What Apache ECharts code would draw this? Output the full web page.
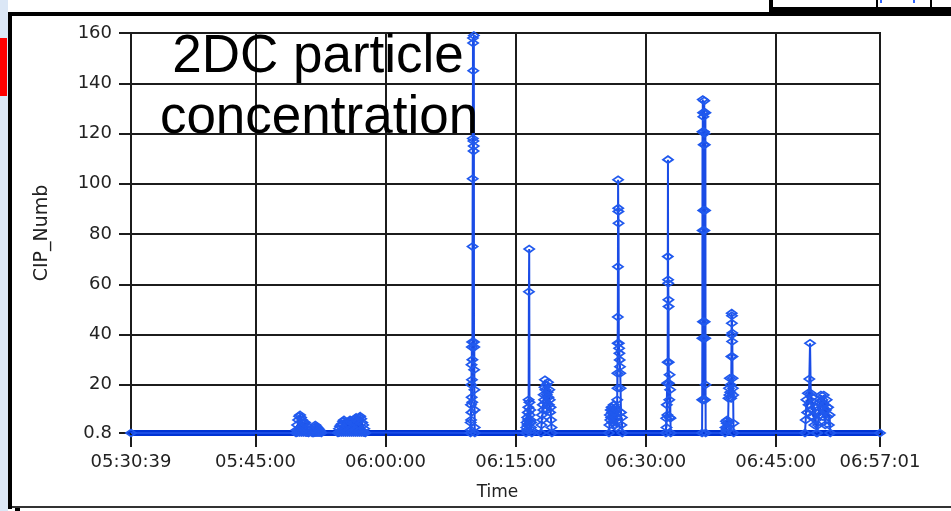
<!DOCTYPE html>
<html>
<head>
<meta charset="utf-8">
<script src="https://cdn.jsdelivr.net/npm/echarts@6/dist/echarts.min.js"></script>
<style>
  html, body { margin: 0; padding: 0; background: #ffffff; }
  #chart { width: 951px; height: 511px; }
</style>
</head>
<body>
<div id="chart"></div>
<script>
// Time axis range and labelled ticks (clock time, HH:MM:SS)
const timeStart = '05:30:39';
const timeEnd = '06:57:01';
const timeTicks = ['05:30:39', '05:45:00', '06:00:00', '06:15:00', '06:30:00', '06:45:00', '06:57:01'];

// CIP_Numb axis ticks
const numbTicks = [0.8, 20, 40, 60, 80, 100, 120, 140, 160];
const baseline = 0.8;

// Bursts of 2DC counts: first sample time, offsets from it (s), CIP_Numb values
const burst1Start = '05:49:41';
const burst1Sec = [0, 3, 7, 10, 14, 17, 21, 24, 28, 31, 35, 38, 42, 45, 49, 52, 56, 59, 63, 66, 70, 73, 77, 80, 84, 87,
  112, 119, 122, 126, 129, 133, 136, 140, 143, 147, 150, 154, 157, 161, 164, 168, 175];
const burst1Numb = [0.8, 2, 4, 1, 6, 2, 7.5, 1, 8, 3, 7, 1, 6, 2, 5, 1, 4.5, 2, 5, 1, 4, 1, 2.5, 1, 2, 0.8,
  0.8, 2, 0.8, 3, 1, 4, 1, 3.5, 1, 3, 1, 2.5, 1, 2, 1, 1.5, 0.8];

const burst2Start = '05:54:31';
const burst2Sec = [0, 3, 7, 10, 14, 17, 21, 24, 28, 31, 35, 38, 42, 45, 49, 52, 56, 59, 63, 66, 70, 73, 77, 80, 84, 87,
  91, 94, 98, 101, 105, 108, 112, 115, 119, 122, 126, 129, 133, 136, 140, 143, 147, 150, 154, 157, 161, 164, 168, 171,
  175, 178, 182, 185, 189];
const burst2Numb = [0.8, 1, 2.5, 1, 3.5, 1.5, 4, 1, 4.5, 2, 5.5, 1, 6, 2, 5, 1, 4, 1.5, 3.5, 1, 4.5, 2, 5.5, 1, 6, 2,
  5.5, 1, 5, 1.5, 4.5, 1, 5, 2, 6.5, 1, 7, 2, 6, 1, 5.5, 1.5, 7, 1, 7.5, 2, 6.5, 1, 5, 1.5,
  4, 1, 2.5, 1, 0.8];

const burst3Start = '06:09:48';
const burst3Sec = [0, 1, 2, 3, 4, 5, 6, 7, 8, 9, 10, 11, 12, 13, 14, 15, 16, 17, 18, 19, 20, 21, 22, 23, 24, 25, 26, 27, 28, 29, 30];
const burst3Numb = [0.8, 5, 2, 12, 6, 20, 9, 28, 15, 35, 22, 37, 13, 30, 75, 102, 118, 158, 156, 145, 117, 113, 115, 159, 37, 26, 35, 18, 10, 3, 0.8];

const burst4Start = '06:16:12';
const burst4Sec = [0, 2, 4, 6, 8, 10, 12, 14, 16, 18, 20, 22, 24, 26, 28, 30, 32, 34, 36, 38, 40];
const burst4Numb = [0.8, 3, 5, 2, 7, 4, 9, 6, 11, 14, 57, 74, 13, 8, 5, 10, 6, 3, 5, 2, 0.8];

const burst5Start = '06:17:56';
const burst5Sec = [0, 3, 6, 9, 12, 15, 18, 21, 24, 27, 30, 33, 36, 39, 42, 45, 48, 51, 54, 57, 60, 63, 66, 69, 72, 75];
const burst5Numb = [0.8, 4, 8, 6, 12, 10, 16, 14, 19, 22, 18, 13, 20, 16, 10, 17, 21, 15, 12, 18, 14, 9, 11, 6, 3, 0.8];

const burst6Start = '06:25:46';
const burst6Sec = [0, 3, 6, 9, 12, 15, 18, 21, 24, 27, 30, 33, 36, 39, 42, 45, 48, 51, 54,
  57, 58, 59, 60, 61, 62, 63, 64, 65, 66, 68, 70, 72, 74, 76, 78, 80, 83, 86, 89, 92];
const burst6Numb = [0.8, 4, 8, 6, 10, 7, 11, 9, 5, 10, 8, 12, 6, 9, 4, 11, 7, 3, 10,
  14, 24.6, 18.6, 36.5, 47, 67, 101.6, 90.3, 89, 84.3, 36.5, 34.5, 32.5, 29.9, 27.2, 24.6, 18.6, 9, 4, 7, 0.8];

const burst7Start = '06:32:20';
const burst7Sec = [0, 2, 4, 6, 8, 10, 12, 13, 14, 15, 16, 17, 18, 19, 21, 23, 25, 27, 29, 31, 33];
const burst7Numb = [0.8, 6.7, 3, 12, 20.6, 8, 29, 71, 109.6, 61.8, 60.4, 53.8, 51.1, 29, 20.6, 14, 24, 7, 18, 6.7, 0.8];

const burst8Start = '06:36:30';
const burst8Sec = [0, 1, 2, 3, 4, 5, 6, 7, 8, 9, 10, 11, 12, 13, 14, 15, 16, 17, 18, 19, 20, 21, 22, 23, 24, 25];
const burst8Numb = [0.8, 14, 38.5, 120.7, 81.4, 133.5, 45.1, 128.3, 89.4, 126.7, 120.7, 115.5, 14, 120.7, 38.5, 133, 81.4, 120, 45.1, 115.5, 14, 89.4, 38.5, 128.3, 20, 0.8];

const burst9Start = '06:39:09';
const burst9Sec = [0, 3, 6, 9, 12, 15, 18, 21, 24, 27, 30, 33, 36, 39, 42, 44, 45, 46, 47, 48, 49, 50, 51, 52, 54, 56, 58, 60];
const burst9Numb = [0.8, 3, 5.5, 2, 4.7, 6, 3, 5, 14.6, 18.6, 15.9, 22.6, 17, 20, 14.6, 31.2, 39.8, 48.5, 44.5, 47.5, 37.2, 40.6, 31.2, 22.6, 18.6, 15.9, 4.7, 0.8];

const burst10Start = '06:48:22';
const burst10Sec = [0, 5, 10, 15, 20, 25, 30, 35, 40, 45, 50, 55, 60, 65, 70, 75, 80, 85, 90, 95, 100, 105,
  110, 115, 120, 125, 130, 135, 140, 145, 150, 155, 160, 165, 170, 175];
const burst10Numb = [0.8, 6, 14, 9, 16.6, 12, 22.3, 36.5, 16.6, 10, 15, 7.3, 13, 4, 11, 6, 0.8, 0.8, 4, 9, 13, 8,
  15.9, 11, 14, 7.3, 15.9, 12, 4, 10, 14, 7.3, 11, 4, 8, 0.8];

function toSec(s) {
  const p = s.split(':').map(Number);
  return p[0] * 3600 + p[1] * 60 + p[2];
}
function toClock(sec) {
  const s = Math.round(sec);
  const pad = (n) => String(n).padStart(2, '0');
  return pad(Math.floor(s / 3600)) + ':' + pad(Math.floor((s % 3600) / 60)) + ':' + pad(s % 60);
}

const bursts = [
  [burst1Start, burst1Sec, burst1Numb],
  [burst2Start, burst2Sec, burst2Numb],
  [burst3Start, burst3Sec, burst3Numb],
  [burst4Start, burst4Sec, burst4Numb],
  [burst5Start, burst5Sec, burst5Numb],
  [burst6Start, burst6Sec, burst6Numb],
  [burst7Start, burst7Sec, burst7Numb],
  [burst8Start, burst8Sec, burst8Numb],
  [burst9Start, burst9Sec, burst9Numb],
  [burst10Start, burst10Sec, burst10Numb]
];

const points = [[toSec(timeStart), baseline]];
bursts.forEach(([start, secs, vals]) => {
  const t0 = toSec(start);
  secs.forEach((s, i) => points.push([t0 + s, vals[i]]));
});
points.push([toSec(timeEnd), baseline]);

const tickSecs = timeTicks.map(toSec);
const ink = '#1c1c1c';
const labelFont = 'DejaVu Sans';
const captionFont = '53px "Liberation Sans", Arial, sans-serif';

const chart = echarts.init(document.getElementById('chart'), null, { renderer: 'canvas' });
chart.setOption({
  animation: false,
  backgroundColor: '#ffffff',
  grid: {
    left: 131, right: 71, top: 33, bottom: 78,
    show: true, borderColor: ink, borderWidth: 2, backgroundColor: '#ffffff'
  },
  xAxis: {
    type: 'value',
    min: toSec(timeStart),
    max: toSec(timeEnd),
    name: 'Time',
    nameLocation: 'middle',
    nameGap: 51,
    nameTextStyle: { fontFamily: labelFont, fontSize: 17, color: '#222', padding: [0, 16, 0, 0] },
    axisLine: { show: true, onZero: false, lineStyle: { color: '#0033d4', width: 6 } },
    axisTick: { show: true, length: 14, customValues: tickSecs, lineStyle: { color: ink, width: 2 } },
    axisLabel: {
      customValues: tickSecs, margin: 20, formatter: (v) => toClock(v),
      fontFamily: labelFont, fontSize: 18, color: '#222'
    },
    splitLine: { show: true, lineStyle: { color: ink, width: 2 } },
    z: 1
  },
  yAxis: {
    type: 'value',
    min: 0.8,
    max: 160,
    name: 'CIP_Numb',
    nameLocation: 'middle',
    nameGap: 79,
    nameTextStyle: { fontFamily: labelFont, fontSize: 19, color: '#222' },
    axisLine: { show: true, onZero: false, lineStyle: { color: ink, width: 2 } },
    axisTick: { show: true, length: 12, customValues: numbTicks, lineStyle: { color: ink, width: 2 } },
    axisLabel: {
      customValues: numbTicks, margin: 19,
      fontFamily: labelFont, fontSize: 18, color: '#222'
    },
    splitLine: { show: true, lineStyle: { color: ink, width: 2 } }
  },
  series: [{
    name: 'CIP_Numb',
    type: 'line',
    data: points,
    symbol: 'diamond',
    symbolSize: [10, 7],
    showSymbol: true,
    showAllSymbol: true,
    lineStyle: { color: '#1a4ce6', width: 2 },
    itemStyle: { color: 'rgba(255,255,255,0)', borderColor: '#2059ee', borderWidth: 1.8 },
    emphasis: { disabled: true },
    z: 3
  }],
  graphic: [
    // window chrome around the plot
    { type: 'rect', left: 0, top: 0, shape: { width: 8, height: 511 }, style: { fill: '#dbe7f6' }, z: 10 },
    { type: 'rect', left: 0, top: 38, shape: { width: 7, height: 58 }, style: { fill: '#ff0000' }, z: 11 },
    { type: 'rect', left: 8, top: 12, shape: { width: 4, height: 497 }, style: { fill: '#000000' }, z: 11 },
    { type: 'rect', left: 8, top: 12, shape: { width: 943, height: 4 }, style: { fill: '#000000' }, z: 11 },
    { type: 'rect', left: 12, top: 506, shape: { width: 939, height: 2 }, style: { fill: '#333333' }, z: 11 },
    { type: 'rect', left: 15, top: 508, shape: { width: 5, height: 3 }, style: { fill: '#000000' }, z: 11 },
    { type: 'rect', left: 769, top: 0, shape: { width: 182, height: 16 }, style: { fill: '#000000' }, z: 11 },
    { type: 'rect', left: 773, top: 0, shape: { width: 103, height: 7 }, style: { fill: '#ffffff' }, z: 12 },
    { type: 'rect', left: 878, top: 0, shape: { width: 52, height: 7 }, style: { fill: '#ffffff' }, z: 12 },
    { type: 'rect', left: 932, top: 0, shape: { width: 19, height: 7 }, style: { fill: '#ffffff' }, z: 12 },
    { type: 'rect', left: 880, top: 0, shape: { width: 2, height: 3 }, style: { fill: '#3366ff' }, z: 13 },
    { type: 'rect', left: 913, top: 0, shape: { width: 2, height: 3 }, style: { fill: '#3366ff' }, z: 13 },
    // overlaid caption
    {
      type: 'text', x: 318, y: 57, z: 20,
      style: { text: '2DC particle', fill: '#000000', font: captionFont, align: 'center', verticalAlign: 'middle' }
    },
    {
      type: 'text', x: 319, y: 118, z: 20,
      style: { text: 'concentration', fill: '#000000', font: captionFont, align: 'center', verticalAlign: 'middle' }
    }
  ]
});
</script>
</body>
</html>
